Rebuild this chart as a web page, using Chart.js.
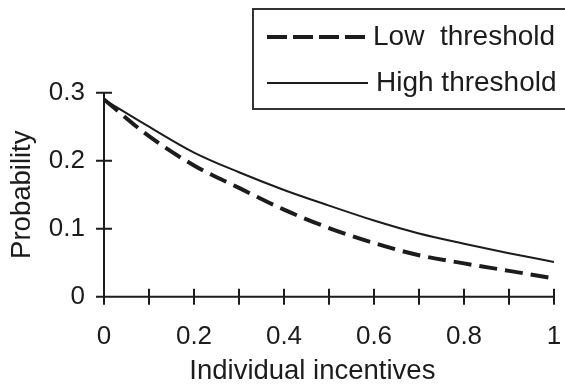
<!DOCTYPE html>
<html>
<head>
<meta charset="utf-8">
<script src="https://cdn.jsdelivr.net/npm/chart.js@4/dist/chart.umd.min.js"></script>
<style>
    html, body { margin: 0; padding: 0; background: #ffffff; }
    canvas { display: block; }
</style>
</head>
<body>
<canvas id="chart" width="565" height="385"></canvas>
<script>
const incentives = [0, 0.1, 0.2, 0.3, 0.4, 0.5, 0.6, 0.7, 0.8, 0.9, 1];
const lowThreshold = [0.29, 0.236, 0.193, 0.160, 0.128, 0.101, 0.079, 0.061, 0.049, 0.038, 0.027];
const highThreshold = [0.29, 0.25, 0.212, 0.183, 0.157, 0.134, 0.112, 0.093, 0.078, 0.064, 0.051];
const yTicks = [0, 0.1, 0.2, 0.3];
const seriesLabels = ["Low  threshold", "High threshold"];
const xTitle = "Individual incentives";
const yTitle = "Probability";

const ink = "#1c1c1c";
const fontFamily = "'Liberation Sans', Arial, Helvetica, sans-serif";

function toPoints(values) {
    return incentives.map(function (x, i) {
        return { x: x, y: values[i] };
    });
}

// axis lines with ticks crossing both sides, like the printed figure
const crossAxes = {
    id: "crossAxes",
    afterDatasetsDraw: function (chart) {
        const ctx = chart.ctx;
        const xs = chart.scales.x;
        const ys = chart.scales.y;
        const x0 = xs.getPixelForValue(0);
        const y0 = ys.getPixelForValue(0);
        const t = 8;

        ctx.save();
        ctx.strokeStyle = ink;
        ctx.lineWidth = 2;
        ctx.beginPath();
        ctx.moveTo(x0, ys.getPixelForValue(yTicks[yTicks.length - 1]));
        ctx.lineTo(x0, y0 + t);
        ctx.moveTo(x0 - t, y0);
        ctx.lineTo(xs.getPixelForValue(1), y0);
        yTicks.forEach(function (v) {
            const py = ys.getPixelForValue(v);
            ctx.moveTo(x0 - t, py);
            ctx.lineTo(x0 + t, py);
        });
        incentives.forEach(function (v) {
            const px = xs.getPixelForValue(v);
            ctx.moveTo(px, y0 - t);
            ctx.lineTo(px, y0 + t);
        });
        ctx.stroke();

        // x title sits a little left of the plot centre in the original
        ctx.font = "27.5px " + fontFamily;
        ctx.fillStyle = ink;
        ctx.textAlign = "center";
        ctx.textBaseline = "middle";
        ctx.fillText(xTitle, xs.getPixelForValue(0.463), 371);
        ctx.restore();
    }
};

// boxed legend in the top right corner
const boxLegend = {
    id: "boxLegend",
    afterDraw: function (chart) {
        const ctx = chart.ctx;
        const sets = chart.data.datasets;
        const rows = [37, 83];

        ctx.save();
        ctx.strokeStyle = "#333333";
        ctx.lineWidth = 2;
        ctx.strokeRect(253, 9, 330, 100);

        ctx.font = "28px " + fontFamily;
        ctx.fillStyle = ink;
        ctx.textBaseline = "middle";
        ctx.textAlign = "left";

        sets.forEach(function (ds, i) {
            ctx.beginPath();
            ctx.strokeStyle = ink;
            ctx.lineWidth = ds.borderWidth;
            ctx.setLineDash(i === 0 ? [20, 6] : []);
            ctx.moveTo(267, rows[i]);
            ctx.lineTo(368, rows[i]);
            ctx.stroke();
            ctx.setLineDash([]);
            ctx.fillText(ds.label, i === 0 ? 373 : 376, rows[i]);
        });
        ctx.restore();
    }
};

new Chart(document.getElementById("chart").getContext("2d"), {
    type: "line",
    data: {
        datasets: [
            {
                label: seriesLabels[0],
                data: toPoints(lowThreshold),
                borderColor: ink,
                borderWidth: 4,
                borderDash: [18, 8],
                pointRadius: 0,
                cubicInterpolationMode: "monotone",
                fill: false
            },
            {
                label: seriesLabels[1],
                data: toPoints(highThreshold),
                borderColor: ink,
                borderWidth: 2,
                pointRadius: 0,
                cubicInterpolationMode: "monotone",
                fill: false
            }
        ]
    },
    options: {
        responsive: false,
        animation: false,
        devicePixelRatio: 1,
        layout: {
            padding: { top: 92.7, right: 11, left: 0, bottom: 0 }
        },
        plugins: {
            legend: { display: false },
            tooltip: { enabled: false }
        },
        scales: {
            x: {
                type: "linear",
                min: 0,
                max: 1,
                grid: { display: false, drawTicks: false },
                border: { display: false },
                ticks: {
                    stepSize: 0.2,
                    padding: 25,
                    color: ink,
                    maxRotation: 0,
                    font: { family: fontFamily, size: 26, lineHeight: 1.2 },
                    callback: function (value) {
                        return String(Math.round(value * 10) / 10);
                    }
                },
                title: { display: false },
                afterFit: function (scale) {
                    scale.height = 88.3;
                    scale.paddingLeft = 0;
                    scale.paddingRight = 0;
                }
            },
            y: {
                type: "linear",
                min: 0,
                max: 0.3,
                grid: { display: false, drawTicks: false },
                border: { display: false },
                ticks: {
                    stepSize: 0.1,
                    padding: 19,
                    color: ink,
                    font: { family: fontFamily, size: 26, lineHeight: 1.2 },
                    callback: function (value) {
                        return String(Math.round(value * 10) / 10);
                    }
                },
                title: {
                    display: true,
                    text: yTitle,
                    color: ink,
                    padding: { top: 9, bottom: 0 },
                    font: { family: fontFamily, size: 27.5, lineHeight: 1 }
                },
                afterFit: function (scale) {
                    scale.width = 104;
                    scale.paddingTop = 0;
                    scale.paddingBottom = 0;
                }
            }
        }
    },
    plugins: [crossAxes, boxLegend]
});
</script>
</body>
</html>
